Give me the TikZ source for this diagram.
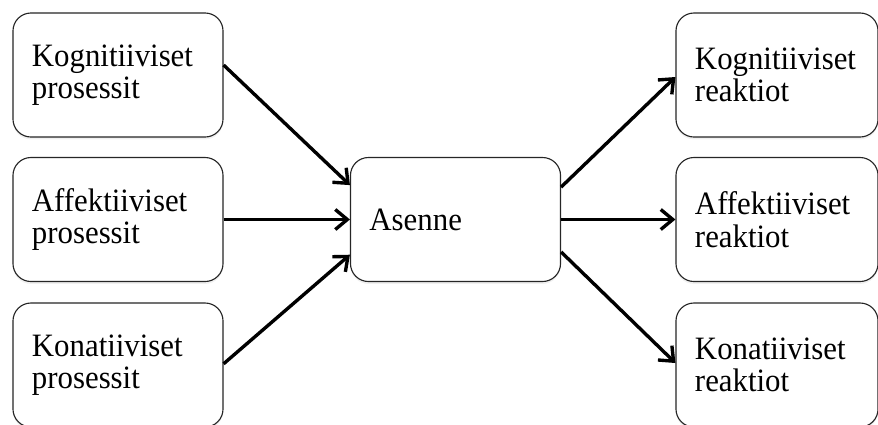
\documentclass[tikz,border=0pt]{standalone}
\usepackage{fontspec}
\setmainfont{Liberation Serif}[FakeStretch=0.945]
\usetikzlibrary{arrows.meta,shadows}
\tikzset{
    RB/.style ={rectangle,rounded corners=0.45cm,draw=black!85,line width=0.8pt,fill=white,
        minimum height=3.1cm,inner xsep=0.475cm,align=left,
        font=\fontsize{23.2}{23}\selectfont,
        drop shadow={opacity=0.12,shadow xshift=0pt,shadow yshift=-0.06cm}},
    RB1/.style ={RB,text width=4.3cm},
    RB2/.style ={RB,text width=4.1cm},
    AR/.style ={line width=2.4pt,-{Straight Barb[length=0.3cm,width=0.5cm,line width=2.4pt]}}}
\begin{document}
\begin{tikzpicture}[x=0.025cm,y=-0.025cm]
        \useasboundingbox (0,0) rectangle (878,424);
        % vasen sarake
        \node[RB1] (kp) at (118,75) {Kognitiiviset\\prosessit};
        \node[RB1] (ap) at (118,219.5) {Affektiiviset\\prosessit};
        \node[RB1] (np) at (118,365) {Konatiiviset\\prosessit};
        % keskella
        \node[RB1] (as) at (455.5,219.5) {Asenne};
        % oikea sarake
        \node[RB2] (kr) at (777,75) {Kognitiiviset\\reaktiot};
        \node[RB2] (ar) at (777,219.5) {Affektiiviset\\reaktiot};
        \node[RB2] (nr) at (777,365) {Konatiiviset\\reaktiot};
        % nuolet
        \draw[AR] ([yshift=0.25cm]kp.east) -- ([yshift=0.86cm]as.west);
        \draw[AR] (ap.east) -- (as.west);
        \draw[AR] ([yshift=0.03cm]np.east) -- ([yshift=-0.88cm]as.west);
        \draw[AR] ([yshift=0.81cm]as.east) -- ([yshift=-0.05cm]kr.west);
        \draw[AR] (as.east) -- (ar.west);
        \draw[AR] ([yshift=-0.81cm]as.east) -- ([yshift=0.05cm]nr.west);
    \end{tikzpicture}
\end{document}
